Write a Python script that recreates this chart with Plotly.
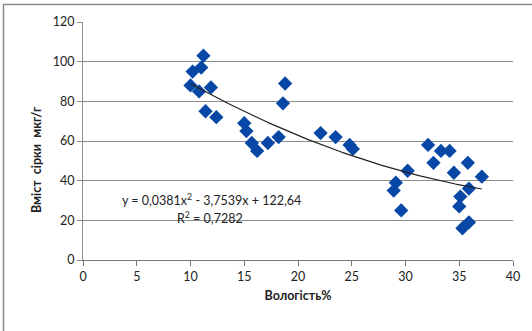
import plotly.graph_objects as go
import numpy as np

# Data
moisture = [11.2, 11.0, 10.2, 10.0, 10.8, 11.9, 11.4, 12.4, 15.0, 15.2,
            15.7, 16.2, 17.2, 18.2, 18.8, 18.6, 22.1, 23.5, 24.8, 25.1,
            32.1, 33.3, 34.1, 32.6, 35.8, 34.5, 37.1, 30.2, 29.1, 28.9,
            29.6, 35.9, 35.1, 35.0, 35.9, 35.3]
sulfur = [103, 97, 95, 88, 85, 87, 75, 72, 69, 65,
          59, 55, 59, 62, 89, 79, 64, 62, 58, 56,
          58, 55, 55, 49, 49, 44, 42, 45, 39, 35,
          25, 36, 32, 27, 19, 16]

# Trendline coefficients as displayed on the chart
coef_a, coef_b, coef_c = 0.0381, -3.7539, 122.64
r_squared = 0.7282
x_ticks = [0, 5, 10, 15, 20, 25, 30, 35, 40]
y_ticks = [0, 20, 40, 60, 80, 100, 120]

x_title = "Вологість%"
y_title = "Вміст  сірки  мкг/г"

FONT = "Lato, 'Open Sans', sans-serif"

tx = np.linspace(min(moisture), max(moisture), 100)
ty = coef_a * tx**2 + coef_b * tx + coef_c

fig = go.Figure()
fig.add_trace(go.Scatter(x=moisture, y=sulfur, mode="markers",
                         marker=dict(symbol="diamond", size=11, color="#0747A6",
                                     line=dict(width=0)),
                         showlegend=False))
fig.add_trace(go.Scatter(x=tx, y=ty, mode="lines",
                         line=dict(color="#222222", width=1.2),
                         showlegend=False))

fig.update_layout(
    width=532, height=331,
    margin=dict(l=83, r=19, t=22, b=71),
    paper_bgcolor="white", plot_bgcolor="white",
    font=dict(family=FONT, size=12, color="#222222"),
    xaxis=dict(range=[0, 40], tickvals=x_ticks, showgrid=False, zeroline=False,
               showline=True, linecolor="#777777", linewidth=1,
               ticks="outside", ticklen=5, tickcolor="#777777",
               tickfont=dict(size=12.5), fixedrange=True,
               title=dict(text=f"<b>{x_title}</b>", font=dict(size=12.5, color="#222222"),
                          standoff=8)),
    yaxis=dict(range=[0, 120], tickvals=y_ticks, showgrid=True, gridcolor="#8c8c8c",
               gridwidth=1, zeroline=False, showline=True, linecolor="#8c8c8c",
               linewidth=1, ticks="outside", ticklen=5, tickcolor="#8c8c8c",
               tickfont=dict(size=12.5), fixedrange=True),
)

fig.add_annotation(x=(37 - 83) / 430, y=(260 - 160) / 238, xref="paper", yref="paper",
                   text=f"<b>{y_title}</b>", showarrow=False, textangle=-90,
                   font=dict(size=12.5, color="#222222"), xanchor="center", yanchor="middle")

eq_text = (f"y = {coef_a:.4f}".replace(".", ",") + "x<sup>2</sup> - "
           + f"{abs(coef_b):.4f}".replace(".", ",") + "x + "
           + f"{coef_c:.2f}".replace(".", ","))
fig.add_annotation(x=(211 - 83) / 430, y=(260 - 199) / 238, xref="paper", yref="paper",
                   text=eq_text, showarrow=False, font=dict(size=12.5, color="#222222"),
                   xanchor="center", yanchor="middle")
fig.add_annotation(x=(210 - 83) / 430, y=(260 - 217) / 238, xref="paper", yref="paper",
                   text="R<sup>2</sup> = " + f"{r_squared:.4f}".replace(".", ","),
                   showarrow=False, font=dict(size=12.5, color="#222222"),
                   xanchor="center", yanchor="middle")

# outer chart border (top and left visible)
fig.add_shape(type="line", xref="paper", yref="paper",
              x0=(3 - 83) / 430, x1=(540 - 83) / 430,
              y0=(260 - 4.5) / 238, y1=(260 - 4.5) / 238,
              line=dict(color="#8a8a8a", width=1.5))
fig.add_shape(type="line", xref="paper", yref="paper",
              x0=(3.5 - 83) / 430, x1=(3.5 - 83) / 430,
              y0=(260 - 4.5) / 238, y1=(260 - 340) / 238,
              line=dict(color="#8a8a8a", width=1.5))

fig.write_html("out.html")
